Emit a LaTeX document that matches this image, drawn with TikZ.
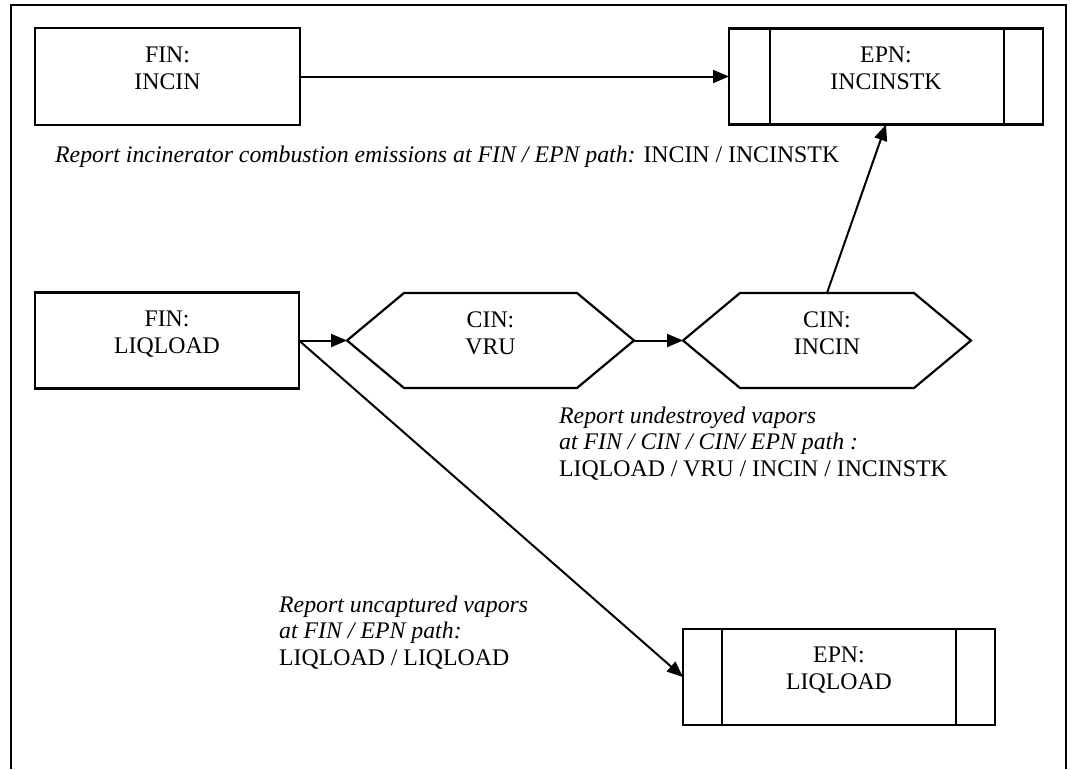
\documentclass[tikz,border=0pt]{standalone}
\usepackage{fontspec}
\setmainfont{Liberation Serif}
\usetikzlibrary{arrows.meta}

\tikzset{
    boxnode/.style = {draw, line width = 2.2pt, inner sep = 0pt, outer sep = 0pt, align = center,
        text height = 44pt, text depth = 19pt, font = \fontsize{23.8}{27}\selectfont},
    hexnode/.style = {inner sep = 0pt, outer sep = 0pt, align = center,
        text height = 44pt, text depth = 17pt, font = \fontsize{23.8}{27}\selectfont},
    flow/.style = {line width = 2pt, -{Triangle[length=16pt,width=13pt]}},
    note/.style = {anchor = base west, align = left, inner sep = 0pt,
        font = \fontsize{23.8}{26.5}\selectfont}
}

\begin{document}
\begin{tikzpicture}[x = 1pt, y = -1pt]
        \useasboundingbox (0,0) rectangle (1071,769);
        \draw [line width = 2.2pt] (11,769) -- (11,5) -- (1066,5) -- (1066,769);
        
        \node [boxnode, minimum width = 265pt, minimum height = 97pt] (finincin) at (167.5,76.5) {FIN:\\INCIN};
        \node [boxnode, minimum width = 314pt, minimum height = 96pt] (epnstk) at (886,76.5) {EPN:\\INCINSTK};
        \draw [line width = 2.2pt] ([xshift=41pt]epnstk.north west) -- ([xshift=41pt]epnstk.south west);
        \draw [line width = 2.2pt] ([xshift=-39pt]epnstk.north east) -- ([xshift=-39pt]epnstk.south east);
        
        \node [boxnode, minimum width = 264pt, minimum height = 96pt] (finliq) at (167,340.5) {FIN:\\LIQLOAD};
        
        \node [hexnode, minimum width = 287pt, minimum height = 95pt] (vru) at (490.5,340.5) {CIN:\\VRU};
        \draw [line width = 2.2pt, line join = miter] (vru.west) -- ([xshift=57pt]vru.north west) -- ([xshift=-57pt]vru.north east)
            -- (vru.east) -- ([xshift=-57pt]vru.south east) -- ([xshift=57pt]vru.south west) -- cycle;
        \node [hexnode, minimum width = 288pt, minimum height = 95pt] (cinincin) at (827,340.5) {CIN:\\INCIN};
        \draw [line width = 2.2pt, line join = miter] (cinincin.west) -- ([xshift=57pt]cinincin.north west) -- ([xshift=-57pt]cinincin.north east)
            -- (cinincin.east) -- ([xshift=-57pt]cinincin.south east) -- ([xshift=57pt]cinincin.south west) -- cycle;
        
        \node [boxnode, minimum width = 312pt, minimum height = 96pt] (epnliq) at (839,677) {EPN:\\LIQLOAD};
        \draw [line width = 2.2pt] ([xshift=39pt]epnliq.north west) -- ([xshift=39pt]epnliq.south west);
        \draw [line width = 2.2pt] ([xshift=-39pt]epnliq.north east) -- ([xshift=-39pt]epnliq.south east);
        
        \draw [flow] (finincin.east) -- (epnstk.west);
        \draw [flow] (cinincin.north) -- (epnstk.south);
        \draw [flow] (finliq.east) -- (vru.west);
        \draw [flow] (vru.east) -- (cinincin.west);
        \draw [flow] (finliq.east) -- (epnliq.west);
        
        \node [note] (noteincin) at (55,162) {\textit{Report incinerator combustion emissions at FIN / EPN path:} INCIN / INCINSTK};
        \node [note] (notevru) at (559,476) {\textit{Report undestroyed vapors}\\\textit{at FIN / CIN / CIN/ EPN path :}\\LIQLOAD / VRU / INCIN / INCINSTK};
        \node [note] (noteliq) at (279,665) {\textit{Report uncaptured vapors}\\\textit{at FIN / EPN path:}\\LIQLOAD / LIQLOAD};
        
    \end{tikzpicture}
\end{document}
